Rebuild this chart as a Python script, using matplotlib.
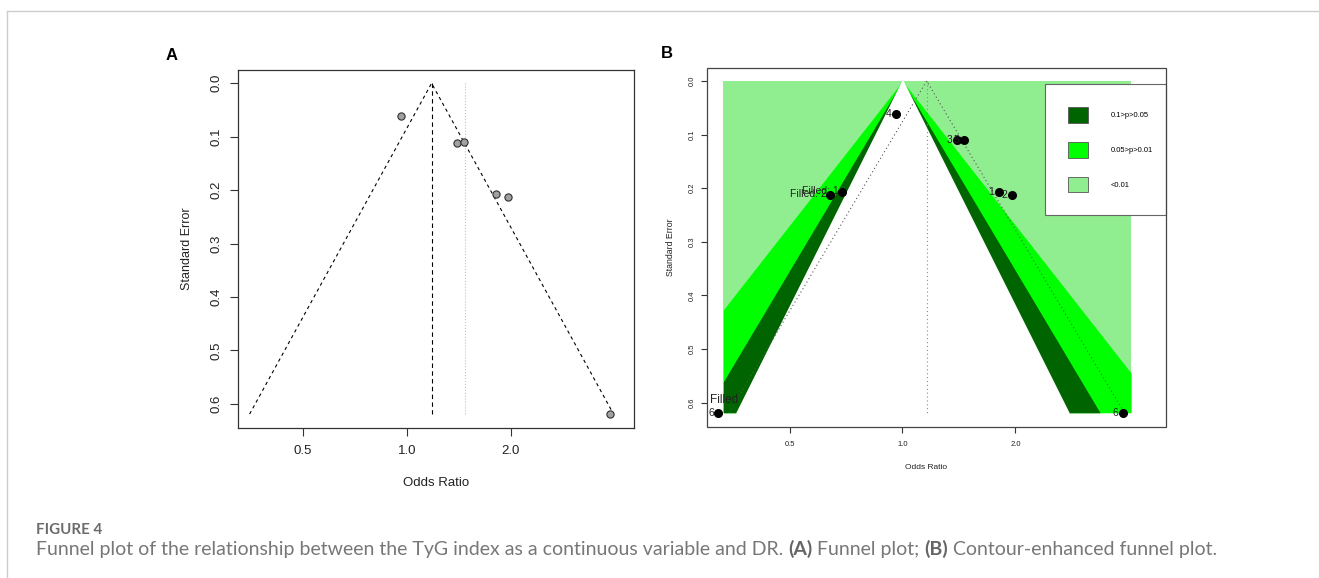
import matplotlib
matplotlib.use('Agg')
import matplotlib.pyplot as plt
import numpy as np
from matplotlib.patches import Patch, Rectangle
from matplotlib.lines import Line2D

W, H = 1319, 578
DPI = 100

# studies (odds ratio, standard error)
study_labels = ['1', '2', '3', '4', '5', '6']
study_or = [1.81, 1.96, 1.40, 0.96, 1.46, 3.87]
study_se = [0.207, 0.213, 0.111, 0.062, 0.110, 0.619]

# trim-and-fill imputed studies
filled_labels = ['Filled: 1', 'Filled: 2', 'Filled: 6']
filled_or = [0.69, 0.64, 0.323]
filled_se = [0.207, 0.213, 0.619]

pooled_or_a = 1.18
random_or_a = 1.47
pooled_or_b = 1.16

# contour regions, outermost first
contour_labels = ['0.1>p>0.05', '0.05>p>0.01', '<0.01']
contour_colors = ['#006400', '#00ff00', '#90ee90']
contour_z = [2.576, 1.96, 1.645]
contour_or_range = (0.333, 4.07)

or_ticks = [0.5, 1.0, 2.0]
or_ticklabels = ['0.5', '1.0', '2.0']
se_ticks = [0.0, 0.1, 0.2, 0.3, 0.4, 0.5, 0.6]

plt.rcParams['font.family'] = ['Liberation Sans', 'DejaVu Sans']


def box(l, t, r, b):
    return [l / W, 1 - b / H, (r - l) / W, (b - t) / H]


def style_axes(ax, size, tick_len, xpad, ypad, spine_col='#333333'):
    ax.set_xticks(np.log(or_ticks))
    ax.set_xticklabels(or_ticklabels)
    ax.set_yticks(se_ticks)
    ax.set_yticklabels(['%.1f' % v for v in se_ticks])
    ax.tick_params(direction='out', length=tick_len, width=0.8, colors='#333333',
                   labelsize=size, labelcolor='#222222')
    ax.tick_params(axis='x', pad=xpad)
    ax.tick_params(axis='y', pad=ypad, labelrotation=90)
    for lab in ax.get_yticklabels():
        lab.set_va('center')
    for sp in ax.spines.values():
        sp.set_color(spine_col)
        sp.set_linewidth(0.9)


fig = plt.figure(figsize=(W / DPI, H / DPI), dpi=DPI)

se_max = max(study_se)

# ---------------- panel A: funnel plot
axA = fig.add_axes(box(238, 70, 634, 428))
c = np.log(pooled_or_a)
axA.plot([c - 1.96 * se_max, c, c + 1.96 * se_max], [se_max, 0, se_max],
         ls=(0, (3, 3)), color='black', lw=0.8)
axA.plot([c, c], [0, se_max], ls=(0, (4, 3)), color='black', lw=0.8)
axA.plot([np.log(random_or_a)] * 2, [0, se_max], ls=':', color='#c0c0c0', lw=0.8)
axA.plot(np.log(study_or), study_se, 'o', ms=5.2, mfc='#a0a0a0', mec='#303030', mew=0.8,
         zorder=3)
axA.set_xlim(-1.125, 1.515)
axA.set_ylim(0.645, -0.0248)
style_axes(axA, 9.5, 5.5, 7, 6)
axA.set_xlabel('Odds Ratio', fontsize=9.5, labelpad=14, color='#222222')
axA.set_ylabel('Standard Error', fontsize=9, labelpad=12, color='#222222')

# ---------------- panel B: contour-enhanced funnel plot
axB = fig.add_axes(box(707, 67.7, 1146, 426.7))
x_lo, x_hi = np.log(contour_or_range)
se_grid = np.linspace(0, se_max, 400)
axB.fill_betweenx([0, se_max], x_lo, x_hi, color=contour_colors[2], lw=0, zorder=1)
for z, col in zip(contour_z, [contour_colors[1], contour_colors[0], 'white']):
    lw = 1.2 if col == 'white' else 0
    axB.fill_betweenx(se_grid, np.maximum(-z * se_grid, x_lo), np.minimum(z * se_grid, x_hi),
                      facecolor=col, edgecolor=col, lw=lw, zorder=1)

cb = np.log(pooled_or_b)
axB.plot([cb - 1.96 * se_max, cb, cb + 1.96 * se_max], [se_max, 0, se_max],
         ls=(0, (1, 2.5)), color='#555555', lw=0.8, zorder=2)
axB.plot([cb, cb], [0, se_max], ls=(0, (1, 2.5)), color='#8a8a8a', lw=0.8, zorder=2)

axB.plot(np.log(study_or), study_se, 'o', ms=5.5, color='black', zorder=4)
axB.plot(np.log(filled_or), filled_se, 'o', ms=5.5, color='black', zorder=4)
for lab, o, s in zip(study_labels, study_or, study_se):
    axB.annotate(lab, (np.log(o), s), xytext=(-3.3, 0), textcoords='offset points',
                 ha='right', va='center', fontsize=7.5, color='#222222', zorder=5)
for lab, o, s in zip(filled_labels[:2], filled_or[:2], filled_se[:2]):
    axB.annotate(lab, (np.log(o), s), xytext=(-2.5, 1), textcoords='offset points',
                 ha='right', va='center', fontsize=7.5, color='#222222', zorder=5)
# the last imputed study sits on the left edge, its label is split in two
name, num = filled_labels[2].split(': ')
axB.annotate(num, (np.log(filled_or[2]), filled_se[2]), xytext=(-3.3, 0),
             textcoords='offset points', ha='right', va='center', fontsize=7.5,
             color='#222222', zorder=5, annotation_clip=False)
axB.annotate(name, (np.log(filled_or[2]), filled_se[2]), xytext=(-6, 9.5),
             textcoords='offset points', ha='left', va='center', fontsize=8.5,
             color='#222222', zorder=5, annotation_clip=False)

axB.set_xlim(-1.2, 1.495)
axB.set_ylim(0.645, -0.0248)
style_axes(axB, 5.5, 4, 6, 4)
for sp in axB.spines.values():
    sp.set_visible(False)
axB.set_xlabel('Odds Ratio', fontsize=6, labelpad=12, color='#222222')
axB.set_ylabel('Standard Error', fontsize=6.3, labelpad=10, color='#222222')

handles = [Patch(facecolor=col, edgecolor='#555555', lw=0.6) for col in contour_colors]
leg = axB.legend(handles, contour_labels, loc='upper left', mode='expand',
                 bbox_to_anchor=(1045 / W, 1 - 221 / H, 121 / W, 137 / H),
                 bbox_transform=fig.transFigure,
                 frameon=True, fancybox=False, framealpha=1, fontsize=5.5,
                 handlelength=2.6, handleheight=2.8, labelspacing=2.5, handletextpad=2.95,
                 borderpad=3.0, borderaxespad=0)
leg.get_frame().set_edgecolor('#666666')
leg.get_frame().set_linewidth(0.8)
leg.set_zorder(6)

# outer frame of panel B
fig.add_artist(Rectangle((707 / W, 1 - 427 / H), (1166 - 707) / W, (427 - 67.7) / H,
                         transform=fig.transFigure, fill=False, edgecolor='#444444', lw=0.9))

# panel letters
fig.text(172 / W, 1 - 56 / H, 'A', fontsize=12, fontweight='bold', ha='center', va='center')
fig.text(667 / W, 1 - 54 / H, 'B', fontsize=12, fontweight='bold', ha='center', va='center')

# page frame
fig.add_artist(Line2D([6.5 / W, 6.5 / W], [0, 1 - 10.5 / H], transform=fig.transFigure,
                      color='#cccccc', lw=1))
fig.add_artist(Line2D([6.5 / W, 1], [1 - 10.5 / H, 1 - 10.5 / H], transform=fig.transFigure,
                      color='#cccccc', lw=1))

# caption
renderer = fig.canvas.get_renderer()
cap_font = 'Lato'


def text_width(s, size, weight):
    t = fig.text(0, 0, s, fontsize=size, fontweight=weight, family=cap_font)
    w = t.get_window_extent(renderer).width
    t.remove()
    return w


def draw_runs(runs, x0, baseline, target_w, color_map):
    base = 12
    space = text_width('x x', base, 'normal') - text_width('xx', base, 'normal')
    total = sum(text_width(s, base, w) for s, w in runs) + space * (len(runs) - 1)
    size = base * target_w / total
    space = space * size / base
    x = x0
    for s, w in runs:
        t = fig.text(x / W, 1 - baseline / H, s, fontsize=size, fontweight=w,
                     family=cap_font, color=color_map[w], va='baseline')
        x += t.get_window_extent(renderer).width + space


draw_runs([('FIGURE 4', 'bold')], 36, 534, 66, {'bold': '#6b6b6b'})
draw_runs([('Funnel plot of the relationship between the TyG index as a continuous variable and DR.', 'normal'),
           ('(A)', 'bold'), ('Funnel plot;', 'normal'), ('(B)', 'bold'),
           ('Contour-enhanced funnel plot.', 'normal')],
          36, 555, 1175, {'normal': '#777777', 'bold': '#666666'})

fig.savefig('out.png', dpi=DPI)
